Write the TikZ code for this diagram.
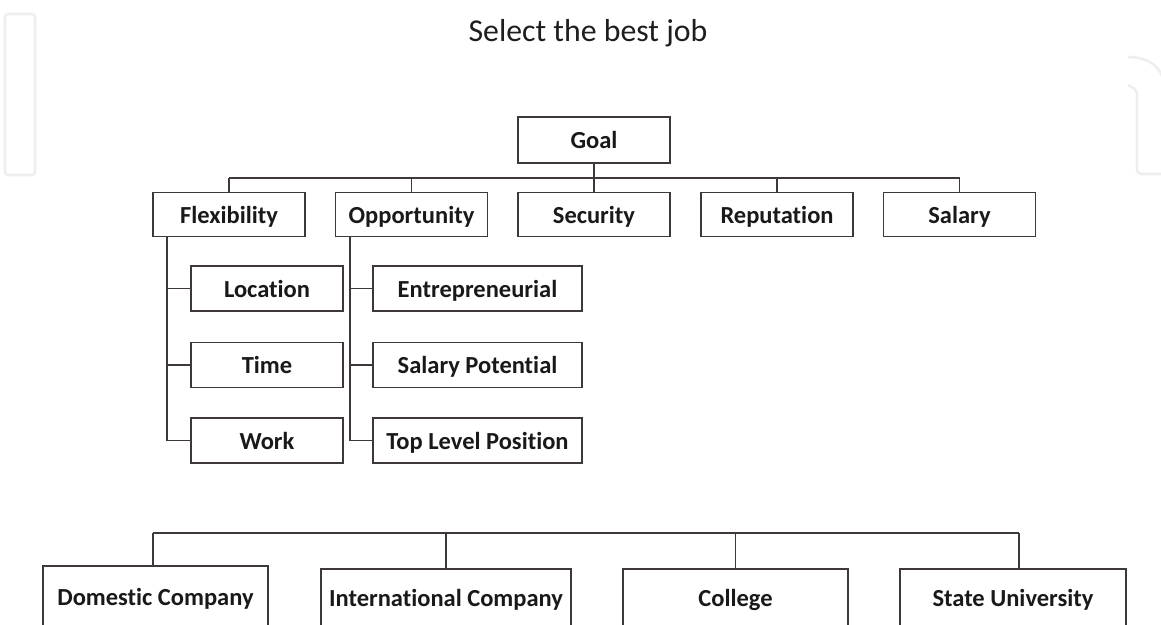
\documentclass[tikz,border=0pt]{standalone}
\usepackage{fontspec}
\setmainfont{Carlito}[Ligatures=NoCommon]
\begin{document}
\begin{tikzpicture}[x=1pt,y=-1pt,
  line width=1.6pt,
  lineclr/.style={draw={rgb,255:red,62;green,57;blue,56}},
  box/.style={lineclr, rectangle, inner sep=0pt, align=center,
    text height=19pt, text depth=2pt,
    font=\fontsize{24.5}{28}\selectfont\bfseries, text={rgb,255:red,25;green,25;blue,25}},
  topbox/.style={box, minimum width=152pt, minimum height=44pt},
  subbox/.style={box, minimum height=45pt},
  altbox/.style={box, minimum height=58pt},
  link/.style={lineclr, line width=1.7pt},
  faint/.style={draw={rgb,255:red,238;green,238;blue,238}, line width=2.6pt}]
\useasboundingbox (0,0) rectangle (1161,624);
\clip (0,0) rectangle (1161,624);
\fill[white] (0,0) rectangle (1161,624);

% light logo outlines in the background
\draw[faint, rounded corners=3pt] (5,14) rectangle (35,175);
\draw[faint] (1128,57) .. controls (1150,57) and (1161,68) .. (1164,82);
\draw[faint, rounded corners=4pt] (1128,85) -- (1137,90) -- (1137,174) -- (1162,174);

% title
\node[font=\fontsize{31.8}{36}\selectfont, text={rgb,255:red,30;green,30;blue,30}]
  (title) at (588,33) {Select the best job};

% goal and criteria
\node[topbox, minimum height=46pt] (goal) at (594,140) {Goal};
\node[topbox] (flex) at (229,214.5) {Flexibility};
\node[topbox] (opp)  at (411.5,214.5) {Opportunity};
\node[topbox] (sec)  at (594,214.5) {Security};
\node[topbox] (rep)  at (777,214.5) {Reputation};
\node[topbox] (sal)  at (959.5,214.5) {Salary};

\coordinate (bus) at (0,178);
\draw[link] (goal.south) -- (goal.south |- bus);
\draw[link] (flex.north |- bus) -- (sal.north |- bus);
\foreach \n in {flex,opp,sec,rep,sal}
  \draw[link] (\n.north |- bus) -- (\n.north);

% sub-criteria
\node[subbox, minimum width=152pt] (loc)  at (267,288.5) {Location};
\node[subbox, minimum width=152pt] (time) at (267,365)   {Time};
\node[subbox, minimum width=152pt] (work) at (267,440.5) {Work};
\node[subbox, minimum width=209pt] (ent)  at (477.5,288.5) {Entrepreneurial};
\node[subbox, minimum width=209pt] (pot)  at (477.5,365)   {Salary Potential};
\node[subbox, minimum width=209pt] (top)  at (477.5,440.5) {Top Level Position};

\coordinate (ftrunk) at ([xshift=15pt]flex.south west);
\coordinate (otrunk) at ([xshift=15pt]opp.south west);
\draw[link] (ftrunk) -- (ftrunk |- work.west) -- (work.west);
\draw[link] (ftrunk |- loc.west) -- (loc.west);
\draw[link] (ftrunk |- time.west) -- (time.west);
\draw[link] (otrunk) -- (otrunk |- top.west) -- (top.west);
\draw[link] (otrunk |- ent.west) -- (ent.west);
\draw[link] (otrunk |- pot.west) -- (pot.west);

% alternatives
\node[altbox, minimum width=225pt, minimum height=62pt] (dom) at (155.5,597) {Domestic Company};
\node[altbox, minimum width=250pt] (intl) at (446,598) {International Company};
\node[altbox, minimum width=225pt] (col)  at (735.5,598) {College};
\node[altbox, minimum width=226pt] (uni)  at (1013,598) {State University};

\coordinate (abus) at (0,533);
\coordinate (dropd) at (153,533);
\coordinate (dropu) at (1019,533);
\draw[link] (dropd) -- (dropu);
\draw[link] (dropd) -- (dropd |- dom.north);
\draw[link] (intl.north |- abus) -- (intl.north);
\draw[link] (col.north |- abus) -- (col.north);
\draw[link] (dropu) -- (dropu |- uni.north);
\end{tikzpicture}
\end{document}
